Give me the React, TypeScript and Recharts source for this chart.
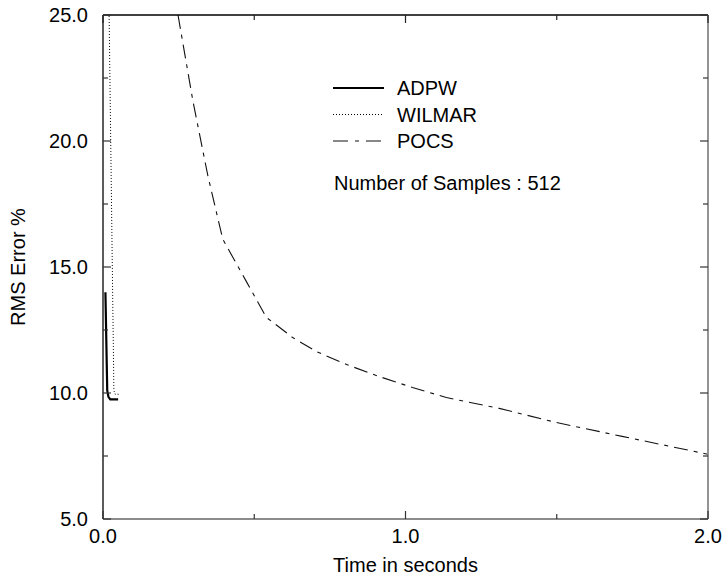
import { LineChart, Line, XAxis, YAxis, Legend } from "recharts";

// RMS error (%) vs time (s), number of samples 512
const adpwTime = [0.008, 0.014, 0.018, 0.024, 0.05];
const adpwRms = [14.0, 10.1, 9.85, 9.75, 9.75];

const wilmarTime = [0.02, 0.036, 0.04, 0.053];
const wilmarRms = [25.2, 10.1, 9.95, 9.95];

const pocsTime = [
  0.248, 0.297, 0.347, 0.396, 0.475, 0.54, 0.584, 0.627, 0.706, 0.805, 0.914,
  1.023, 1.135, 1.31, 1.498, 1.716, 1.987, 2.0,
];
const pocsRms = [
  25.0, 21.6, 18.6, 16.1, 14.4, 13.0, 12.6, 12.2, 11.64, 11.13, 10.65, 10.22,
  9.82, 9.39, 8.83, 8.28, 7.6, 7.57,
];

const xTicks = [0, 0.5, 1, 1.5, 2];
const yTicks = [5, 7.5, 10, 12.5, 15, 17.5, 20, 22.5, 25];
const sampleNote = "Number of Samples : 512";

const FONT = "'Liberation Sans', Arial, Helvetica, sans-serif";

const toRows = (ts: number[], vs: number[]) => ts.map((t, i) => ({ t, rms: vs[i] }));

// the WILMAR line is tied to the top/right axes (same domains) so that the
// frame axes get drawn
const series = [
  { name: "ADPW", data: toRows(adpwTime, adpwRms), stroke: "#000", width: 2.2, dash: undefined as string | undefined, xId: 0 as any, yId: 0 as any },
  { name: "WILMAR", data: toRows(wilmarTime, wilmarRms), stroke: "#000", width: 1, dash: "1 2", xId: "top", yId: "right" },
  { name: "POCS", data: toRows(pocsTime, pocsRms), stroke: "#111", width: 1.1, dash: "14 6 4 6", xId: 0 as any, yId: 0 as any },
];

const isMajorX = (v: number) => Number.isInteger(v);
const isMajorY = (v: number) => v % 5 === 0;

// tick label sits tickMargin away from the axis line (tickSize = 0)
function BottomTick({ x, y, payload }: any) {
  const base = y - 10;
  const major = isMajorX(payload.value);
  return (
    <g>
      <line x1={x} x2={x} y1={base} y2={base - (major ? 8 : 5)} stroke="#333" strokeWidth={1.2} />
      {major && (
        <text x={x} y={y} dy="0.72em" textAnchor="middle" fontSize={20} fontFamily={FONT} fill="#000">
          {payload.value.toFixed(1)}
        </text>
      )}
    </g>
  );
}

function LeftTick({ x, y, payload }: any) {
  const base = x + 15;
  const major = isMajorY(payload.value);
  return (
    <g>
      <line x1={base} x2={base + (major ? 8 : 5)} y1={y} y2={y} stroke="#333" strokeWidth={1.2} />
      {major && (
        <text x={x} y={y} dy="0.36em" textAnchor="end" fontSize={20} fontFamily={FONT} fill="#000">
          {payload.value.toFixed(1)}
        </text>
      )}
    </g>
  );
}

function TopTick({ x, y, payload }: any) {
  const major = isMajorX(payload.value);
  return <line x1={x} x2={x} y1={y} y2={y + (major ? 8 : 5)} stroke="#222" strokeWidth={1.2} />;
}

function RightTick({ x, y, payload }: any) {
  const major = isMajorY(payload.value);
  return <line x1={x} x2={x - (major ? 8 : 5)} y1={y} y2={y} stroke="#333" strokeWidth={1.2} />;
}

function LegendBox() {
  return (
    <svg width={270} height={125} style={{ display: "block", overflow: "visible" }}>
      {series.map((s, i) => {
        const cy = 14 + i * 26.5;
        return (
          <g key={s.name}>
            <line
              x1={3}
              x2={54}
              y1={cy}
              y2={cy}
              stroke={s.stroke}
              strokeWidth={s.width}
              strokeDasharray={s.name === "POCS" ? "15 7 4 7" : s.dash}
            />
            <text x={67} y={cy} dy="0.36em" fontSize={20} fontFamily={FONT} fill="#000">
              {s.name}
            </text>
          </g>
        );
      })}
      <text x={4} y={109} dy="0.36em" fontSize={20} fontFamily={FONT} fill="#000">
        {sampleNote}
      </text>
    </svg>
  );
}

export default function App() {
  return (
    <div
      style={{
        position: "absolute",
        left: 0,
        top: 0,
        width: 726,
        height: 582,
        background: "#fff",
        fontFamily: FONT,
      }}
    >
      <LineChart width={726} height={582} margin={{ top: 14, right: 17, left: 0, bottom: 0 }}>
        <XAxis
          dataKey="t"
          type="number"
          domain={[0, 2]}
          ticks={xTicks}
          allowDataOverflow
          height={63}
          tickSize={0}
          tickMargin={10}
          tickLine={false}
          tick={BottomTick}
          axisLine={{ stroke: "#666", strokeWidth: 1.6 }}
          label={{
            value: "Time in seconds",
            position: "insideBottom",
            offset: 10,
            fontSize: 20,
            fontFamily: FONT,
            fill: "#000",
          }}
        />
        <XAxis
          xAxisId="top"
          dataKey="t"
          orientation="top"
          type="number"
          domain={[0, 2]}
          ticks={xTicks}
          allowDataOverflow
          height={1}
          tickSize={0}
          tickMargin={0}
          tickLine={false}
          tick={TopTick}
          axisLine={{ stroke: "#000", strokeWidth: 1.4 }}
        />
        <YAxis
          type="number"
          domain={[5, 25]}
          ticks={yTicks}
          allowDataOverflow
          width={103}
          tickSize={0}
          tickMargin={15}
          tickLine={false}
          tick={LeftTick}
          axisLine={{ stroke: "#333", strokeWidth: 1.6 }}
          label={{
            value: "RMS Error %",
            angle: -90,
            position: "insideLeft",
            offset: 18,
            fontSize: 20,
            fontFamily: FONT,
            fill: "#000",
            style: { textAnchor: "middle" },
          }}
        />
        <YAxis
          yAxisId="right"
          orientation="right"
          type="number"
          domain={[5, 25]}
          ticks={yTicks}
          allowDataOverflow
          width={1}
          tickSize={0}
          tickMargin={0}
          tickLine={false}
          tick={RightTick}
          axisLine={{ stroke: "#888", strokeWidth: 1.8 }}
        />
        <Legend
          layout="vertical"
          align="center"
          verticalAlign="middle"
          content={LegendBox}
          wrapperStyle={{ left: 330, top: 74, width: 270 }}
        />
        {series.map((s) => (
          <Line
            key={s.name}
            data={s.data}
            dataKey="rms"
            name={s.name}
            xAxisId={s.xId}
            yAxisId={s.yId}
            type="linear"
            stroke={s.stroke}
            strokeWidth={s.width}
            strokeDasharray={s.dash}
            dot={false}
            activeDot={false}
            isAnimationActive={false}
          />
        ))}
      </LineChart>
    </div>
  );
}
